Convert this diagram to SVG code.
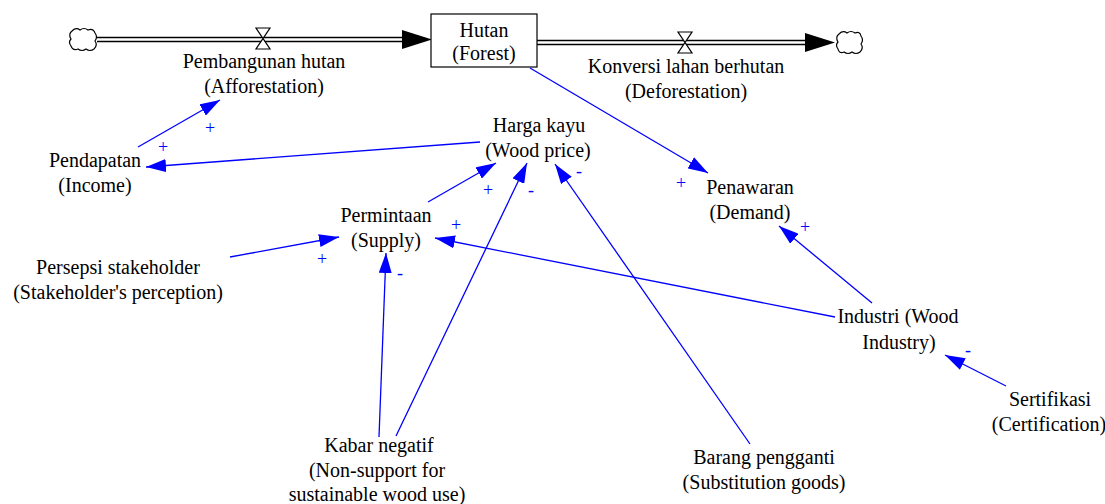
<svg xmlns="http://www.w3.org/2000/svg" width="1105" height="504" viewBox="0 0 1105 504">
<style>
.t{font-family:"Times New Roman","Liberation Serif","DejaVu Serif",Times,serif;font-size:20px;fill:#000;text-anchor:middle}
.p{font-family:"Times New Roman","Liberation Serif","DejaVu Serif",Times,serif;font-size:18px;fill:#0000ff;text-anchor:middle;dominant-baseline:central}
.c{stroke:#0000ff;stroke-width:1.3;fill:none;marker-end:url(#ah)}
.pipe{stroke:#000;stroke-width:1.3;fill:none}
.valve{stroke:#000;stroke-width:1.2;fill:#fff}
.cloud{stroke:#000;stroke-width:1.2;fill:#fff}
</style>
<defs>
<marker id="ah" viewBox="0 0 20 13" refX="20" refY="6.5" markerWidth="20" markerHeight="13" markerUnits="userSpaceOnUse" orient="auto">
<path d="M0,0 L20,6.5 L0,13 Z" fill="#0000ff"/>
</marker>
</defs>
<rect width="1105" height="504" fill="#fff"/>

<g id="flows">
<line class="pipe" x1="97" y1="37.5" x2="405" y2="37.5"/>
<line class="pipe" x1="97" y1="41.5" x2="405" y2="41.5"/>
<polygon points="402,30 432,39.5 402,49" fill="#000"/>
<line class="pipe" x1="537" y1="40.5" x2="808" y2="40.5"/>
<line class="pipe" x1="537" y1="44.5" x2="808" y2="44.5"/>
<polygon points="805,33 835,42.5 805,52" fill="#000"/>
</g>

<g id="cloud-left">
<path class="cloud" d="M72,31 q4,-4 8,-1 q4,-3 8,0 q5,-2 7,3 q3,4 0,8 q3,4 -1,8 q-4,3 -8,0 q-4,3 -8,0 q-5,2 -7,-3 q-3,-4 0,-7 q-3,-5 1,-8 Z"/>
</g>
<g id="cloud-right">
<path class="cloud" d="M839,34 q4,-4 8,-1 q4,-3 8,0 q5,-2 6,3 q3,4 0,8 q3,4 -1,8 q-4,3 -8,0 q-4,3 -8,0 q-5,2 -6,-3 q-3,-4 0,-7 q-3,-5 1,-8 Z"/>
</g>

<g id="valve-afforestation">
<path class="valve" d="M256,28 L270,28 L256,49 L270,49 Z"/>
<text class="t" x="264" y="68">Pembangunan hutan</text>
<text class="t" x="264" y="93">(Afforestation)</text>
</g>

<g id="valve-deforestation">
<path class="valve" d="M678,32 L692,32 L678,53 L692,53 Z"/>
<text class="t" x="686" y="73">Konversi lahan berhutan</text>
<text class="t" x="686" y="98">(Deforestation)</text>
</g>

<g id="hutan">
<rect x="431" y="14" width="106" height="53" fill="#fff" stroke="#000" stroke-width="1.2"/>
<text class="t" x="484" y="37">Hutan</text>
<text class="t" x="484" y="60">(Forest)</text>
</g>

<g id="harga-kayu">
<text class="t" x="539" y="132">Harga kayu</text>
<text class="t" x="538" y="157">(Wood price)</text>
</g>

<g id="pendapatan">
<text class="t" x="95" y="167">Pendapatan</text>
<text class="t" x="95" y="192">(Income)</text>
</g>

<g id="permintaan">
<text class="t" x="386" y="222">Permintaan</text>
<text class="t" x="386" y="247">(Supply)</text>
</g>

<g id="penawaran">
<text class="t" x="750" y="194">Penawaran</text>
<text class="t" x="750" y="219">(Demand)</text>
</g>

<g id="persepsi">
<text class="t" x="118" y="274">Persepsi stakeholder</text>
<text class="t" x="118" y="299">(Stakeholder's perception)</text>
</g>

<g id="industri">
<text class="t" x="898" y="323">Industri (Wood</text>
<text class="t" x="899" y="349">Industry)</text>
</g>

<g id="sertifikasi">
<text class="t" x="1050" y="406">Sertifikasi</text>
<text class="t" x="1049" y="431">(Certification)</text>
</g>

<g id="kabar-negatif">
<text class="t" x="379" y="452">Kabar negatif</text>
<text class="t" x="377" y="477">(Non-support for</text>
<text class="t" x="377" y="501">sustainable wood use)</text>
</g>

<g id="barang-pengganti">
<text class="t" x="764" y="464">Barang pengganti</text>
<text class="t" x="764" y="489">(Substitution goods)</text>
</g>

<g id="connectors">
<line class="c" x1="138" y1="147" x2="220" y2="100"/>
<line class="c" x1="480" y1="142" x2="146" y2="167"/>
<line class="c" x1="428" y1="202" x2="496" y2="163"/>
<line class="c" x1="396" y1="436" x2="527" y2="163"/>
<line class="c" x1="750" y1="444" x2="555" y2="164"/>
<line class="c" x1="230" y1="257" x2="339" y2="237"/>
<line class="c" x1="379" y1="437" x2="386" y2="253"/>
<line class="c" x1="835" y1="317" x2="435" y2="238"/>
<line class="c" x1="530" y1="68" x2="708" y2="173"/>
<line class="c" x1="872" y1="303" x2="779" y2="226"/>
<line class="c" x1="1006" y1="386" x2="945" y2="355"/>
<text class="p" x="210" y="128">+</text>
<text class="p" x="163" y="147">+</text>
<text class="p" x="488" y="190">+</text>
<text class="p" x="531" y="190">-</text>
<text class="p" x="579" y="171">-</text>
<text class="p" x="322" y="259">+</text>
<text class="p" x="400" y="273">-</text>
<text class="p" x="456" y="225">+</text>
<text class="p" x="681" y="183">+</text>
<text class="p" x="805" y="227">+</text>
<text class="p" x="968" y="350">-</text>
</g>
</svg>
